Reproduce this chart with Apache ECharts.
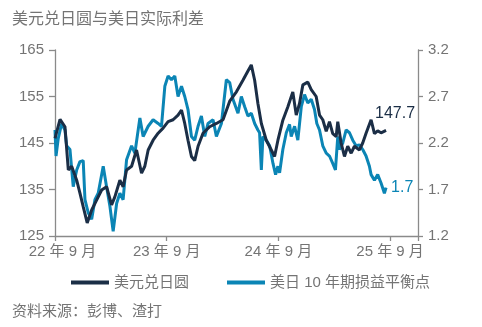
<!DOCTYPE html>
<html>
<head>
<meta charset="utf-8">
<script src="https://cdn.jsdelivr.net/npm/echarts@6/dist/echarts.min.js"></script>
<style>html,body{margin:0;padding:0;background:#fff}#c{width:482px;height:327px}</style>
</head>
<body>
<div id="c"></div>
<script>
// x values: months since Sep 2022
var usdJpyT = [0.00,0.54,1.07,1.43,1.79,2.33,2.68,3.03,3.46,3.94,4.47,5.01,5.54,6.08,6.43,6.97,7.32,7.69,8.23,8.76,9.30,9.65,10.01,10.54,11.08,11.61,12.15,12.69,13.22,13.59,13.94,14.29,14.66,15.01,15.37,15.90,16.62,17.34,18.05,18.77,19.49,20.19,20.73,21.09,21.45,21.80,22.17,22.70,23.24,23.59,23.95,24.48,25.02,25.55,25.92,26.27,26.63,27.16,27.53,28.06,28.42,28.77,29.14,29.49,29.84,30.21,30.38,30.74,31.10,31.45,31.82,32.17,32.71,33.06,33.42,33.96,34.32,34.67,35.03,35.57];
var usdJpy = [146.0,150.1,148.5,139.2,140.0,137.0,134.2,131.3,127.8,130.6,132.7,134.9,135.6,131.7,133.4,137.0,135.6,139.2,140.0,143.5,138.5,140.0,143.5,145.6,147.1,148.2,149.6,150.0,151.0,152.1,149.2,145.6,142.1,141.2,144.3,147.1,148.5,149.2,150.0,154.0,156.0,158.5,160.5,161.8,158.5,153.5,149.2,145.6,143.5,142.1,145.6,149.9,152.8,156.0,151.0,153.5,157.5,158.1,156.5,155.0,151.0,150.0,147.5,149.6,147.0,146.4,149.6,145.0,142.1,144.3,142.8,144.3,143.5,145.0,147.1,150.0,147.0,147.6,147.2,147.7];
var spreadT = [0.00,0.11,0.35,0.72,1.07,1.25,1.61,1.96,2.33,2.68,3.03,3.22,3.57,3.94,4.29,4.64,5.18,5.54,5.90,6.25,6.62,6.97,7.32,7.69,8.23,8.58,9.12,9.47,10.01,10.54,11.08,11.44,11.80,12.15,12.51,12.87,13.22,13.59,13.94,14.29,14.66,15.01,15.37,15.73,16.09,16.44,16.98,17.34,17.88,18.41,18.77,19.12,19.66,20.02,20.38,20.73,21.09,21.45,21.80,21.98,22.17,22.34,22.70,23.06,23.42,23.70,23.95,24.13,24.48,24.85,25.20,25.38,25.74,26.09,26.46,26.81,27.16,27.53,27.88,28.13,28.42,28.77,29.14,29.49,29.84,30.13,30.38,30.56,30.92,31.28,31.64,31.99,32.35,32.71,33.06,33.42,33.78,33.96,34.32,34.67,35.03,35.39,35.57];
var spread = [2.34,2.06,2.25,2.41,2.34,2.17,2.13,1.73,1.91,2.00,2.01,1.59,1.45,1.38,1.59,1.66,1.95,1.73,1.52,1.25,1.55,1.66,1.59,2.02,2.17,2.09,2.47,2.27,2.38,2.45,2.41,2.38,2.81,2.92,2.88,2.92,2.70,2.81,2.70,2.56,2.27,2.23,2.38,2.49,2.27,2.41,2.45,2.27,2.41,2.88,2.85,2.67,2.52,2.70,2.59,2.49,2.52,2.41,2.34,2.31,1.91,2.27,2.23,2.17,1.98,1.86,1.95,1.88,2.13,2.31,2.40,2.27,2.38,2.23,2.59,2.72,2.63,2.67,2.56,2.41,2.34,2.17,2.09,2.06,1.98,1.91,2.27,2.13,2.20,2.34,2.31,2.23,2.17,2.18,2.13,2.06,1.95,1.86,1.80,1.86,1.77,1.66,1.72];
var xTickLabels = {0:'22 年 9 月',12:'23 年 9 月',24:'24 年 9 月',36:'25 年 9 月'};
var seriesNames = ['美元兑日圆','美日 10 年期损益平衡点'];
var endLabels = ['147.7','1.7'];
var titleText = '美元兑日圆与美日实际利差';
var sourceText = '资料来源：彭博、渣打';

var NAVY = '#1b2e46', TEAL = '#0b85b5', GREY = '#747474', AXIS = '#8a8a8a';
var FONT = 'Liberation Sans, Arial, "Noto Sans CJK SC", sans-serif';

function pairs(t, v) {
  return t.map(function (x, i) { return [x, v[i]]; });
}

var chart = echarts.init(document.getElementById('c'), null, {renderer: 'canvas'});
chart.setOption({
  animation: false,
  textStyle: {fontFamily: FONT},
  title: [
    {text: titleText, left: 7, top: 7, textStyle: {fontSize: 16, fontWeight: 'normal', color: GREY, fontFamily: FONT}},
    {text: sourceText, left: 7, top: 299, textStyle: {fontSize: 15, fontWeight: 'normal', color: GREY, fontFamily: FONT}}
  ],
  legend: {
    left: 66, top: 270, itemWidth: 38, itemHeight: 4, itemGap: 38,
    icon: 'rect',
    textStyle: {fontSize: 15, color: GREY, fontFamily: FONT},
    data: seriesNames
  },
  grid: {left: 55, right: 64, top: 50, bottom: 91, containLabel: false},
  xAxis: {
    type: 'value', min: 0, max: 39, interval: 12,
    axisLine: {show: true, lineStyle: {color: AXIS, width: 1.3}},
    axisTick: {show: true, length: 5, lineStyle: {color: AXIS, width: 1.3}},
    splitLine: {show: false},
    axisLabel: {
      color: GREY, fontSize: 15, margin: 8, fontFamily: FONT,
      formatter: function (v) {
        var s = xTickLabels[v];
        if (!s) return '';
        return v === 0 ? '{f|' + s + '}' : s;
      },
      rich: {f: {padding: [0, 0, 0, 15], fontSize: 15, color: GREY, fontFamily: FONT}}
    }
  },
  yAxis: [
    {
      type: 'value', min: 125, max: 165, interval: 10, position: 'left',
      axisLine: {show: true, lineStyle: {color: AXIS, width: 1.3}},
      axisTick: {show: true, length: 6, lineStyle: {color: AXIS, width: 1.3}},
      splitLine: {show: false},
      axisLabel: {color: GREY, fontSize: 15, margin: 11, fontFamily: FONT}
    },
    {
      type: 'value', min: 1.2, max: 3.2, interval: 0.5, position: 'right',
      axisLine: {show: true, lineStyle: {color: AXIS, width: 1.3}},
      axisTick: {show: true, length: 5, lineStyle: {color: AXIS, width: 1.3}},
      splitLine: {show: false},
      axisLabel: {color: GREY, fontSize: 15, margin: 10, fontFamily: FONT,
        formatter: function (v) { return v.toFixed(1); }}
    }
  ],
  series: [
    {
      name: seriesNames[0], type: 'line', yAxisIndex: 0, showSymbol: false, symbol: 'none',
      lineStyle: {color: NAVY, width: 3}, itemStyle: {color: NAVY}, z: 3,
      endLabel: {show: true, formatter: endLabels[0], color: NAVY, fontSize: 16, fontFamily: FONT,
        distance: 5, offset: [-16, -17]},
      data: pairs(usdJpyT, usdJpy)
    },
    {
      name: seriesNames[1], type: 'line', yAxisIndex: 1, showSymbol: false, symbol: 'none',
      lineStyle: {color: TEAL, width: 3}, itemStyle: {color: TEAL}, z: 2,
      endLabel: {show: true, formatter: endLabels[1], color: TEAL, fontSize: 16, fontFamily: FONT,
        distance: 5, offset: [0, 0]},
      data: pairs(spreadT, spread)
    }
  ]
});
</script>
</body>
</html>
